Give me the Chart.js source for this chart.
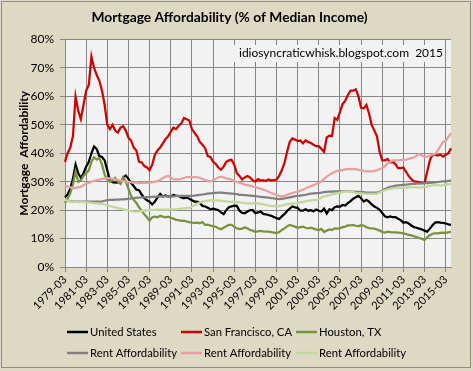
<!DOCTYPE html>
<html>
<head>
<meta charset="utf-8">
<script src="https://cdn.jsdelivr.net/npm/chart.js@4.4.1/dist/chart.umd.min.js"></script>
<style>
  html, body { margin: 0; padding: 0; background: #DDD9C3; }
  #chart { display: block; }
</style>
</head>
<body>
<canvas id="chart" width="473" height="371"></canvas>
<script>
// quarterly categories, 1979-03 .. 2015-09
const years = [];
for (let y = 1979; y <= 2015; y++) years.push(y);
const quarters = [];
years.forEach(y => ['03', '06', '09', '12'].forEach(m => quarters.push(y + '-' + m)));
quarters.splice(quarters.indexOf('2015-09') + 1);

const seriesNames = ['United States', 'San Francisco, CA', 'Houston, TX',
  'Rent Affordability', 'Rent Affordability', 'Rent Affordability'];

const usMortgage = [
  24.5, 25.5, 27.5, 31, 36, 33, 31.3, 33, 35.3, 37, 40, 42.4,
  41.5, 39, 38.7, 37.5, 34, 30.5, 29.8, 29.7, 29.8, 29.5, 31.5, 32.2,
  31, 29.5, 28.5, 27.2, 27, 25.5, 24.2, 23.5, 23, 22, 23, 24.5,
  25.7, 24.8, 25.2, 24.8, 24.8, 25.3, 25, 25, 24.5, 24.2, 24.5, 24,
  23.5, 23, 23, 22.5, 21.5, 21.3, 20.8, 20.3, 20.5, 20.3, 20, 19.2,
  18.6, 20, 21, 21.3, 21.6, 21.5, 19.8, 19, 18.9, 19.5, 20, 20,
  18.9, 19.2, 19.5, 18.7, 18.5, 18.3, 18, 17.6, 17.2, 16.9, 17.8, 18.6,
  19.7, 20.5, 21.3, 21, 20.8, 19.8, 19.8, 20.3, 19.8, 20, 19.6, 20.2,
  19.8, 19.5, 20.5, 18.8, 20.3, 20, 21, 21.3, 21.2, 21.8, 21.6, 22.5,
  23.2, 24, 24.5, 25, 24.2, 23, 23.6, 23, 22, 21.3, 20.8, 20.1,
  19, 17.8, 17.5, 17.8, 17.5, 17.5, 17, 16.5, 15.6, 15.8, 15.3, 14.6,
  14, 13.8, 13.5, 13.2, 12.8, 12.4, 13.5, 14.7, 15.6, 15.8, 15.6, 15.5,
  15.3, 15, 14.8
];
const sfMortgage = [
  37, 40, 42, 46, 60, 55, 52, 57, 62, 64, 74, 70,
  67.5, 65.5, 62, 57, 50, 48.5, 50, 48, 47.3, 49, 49.5, 48,
  45.5, 44.5, 42, 41, 37, 36.8, 35.5, 35, 34, 36, 39.5, 41,
  42, 43.5, 45, 46, 47.5, 49, 48.5, 49.7, 50.5, 52.4, 52, 51.5,
  48.5, 47.2, 46, 44, 43, 41.8, 39, 38.7, 37, 36.3, 35, 34.2,
  35.3, 37, 37.5, 37.7, 36, 33, 32, 30.8, 31.5, 32, 31.5, 30.5,
  30, 30.9, 30.5, 30.5, 30.3, 30.8, 30.5, 30.6, 30.7, 32, 34, 36.5,
  40.5, 44, 45.2, 44.8, 44.3, 44.5, 43.5, 44.5, 44, 43.6, 43, 42.5,
  42.5, 41.5, 40.5, 45.6, 46.2, 46, 52.4, 51.8, 54.5, 57.3, 58.5, 60.5,
  62, 62, 62.5, 60, 56, 55.8, 57, 54, 50, 48, 46, 40.5,
  37.5, 37.5, 38, 36.8, 37, 36.2, 34.8, 34.8, 35, 33.5, 32, 30.9,
  30.1, 30, 29.8, 29.5, 29.6, 33.5, 37.5, 39.5, 39.5, 39.2, 39.5, 38.8,
  39.5, 40, 41.8
];
const houstonMortgage = [
  22.5, 24, 26, 29, 33.5, 30, 30.5, 32, 33, 34, 37, 38.6,
  37.8, 38.3, 36, 32.5, 30.5, 30, 30.5, 31.3, 30, 29.2, 31.5, 30,
  27.5, 25, 23.6, 22.5, 21, 19.8, 18.5, 17.5, 16.3, 17.5, 17.7, 17.5,
  18, 17.7, 17.5, 17.7, 17.3, 17, 16.6, 16.5, 16.2, 16.3, 16, 15.8,
  15.6, 15.5, 15.6, 15.4, 15.8, 14.8, 14.9, 14.6, 14.3, 14.2, 13.6, 13.3,
  13.8, 14.3, 14.8, 14.8, 14.2, 13.6, 13.3, 13.5, 13.9, 13.6, 13, 12.8,
  12.4, 12.5, 12.7, 12.5, 12.4, 12.4, 12.3, 12.1, 11.9, 12.3, 13, 13.6,
  14.3, 14.8, 14.5, 14.2, 13.8, 14, 14.2, 13.8, 13.6, 13.8, 13.5, 13.2,
  13, 13.4, 12.3, 12.8, 13.2, 13, 13.6, 13.5, 13.6, 14, 14.2, 14.6,
  14.6, 14.8, 14.5, 14.3, 14.8, 14.5, 14, 13.7, 13.6, 13.5, 13.2, 12.8,
  12.3, 12.1, 12.4, 12.3, 12.2, 12.2, 12.1, 12, 11.8, 11.6, 11.3, 11.1,
  10.8, 10.5, 10.2, 9.9, 9.5, 10.4, 11.2, 11.7, 11.8, 11.8, 12, 12.1,
  12, 12.2, 12.4
];
const usRent = [
  23.4, 23.3, 23.2, 23.1, 23, 23, 23, 23, 23, 23, 23, 23,
  23, 23, 23.1, 23.3, 23.5, 23.6, 23.6, 23.7, 23.7, 23.8, 23.8, 23.9,
  24, 24.1, 24.2, 24.3, 24.4, 24.5, 24.5, 24.6, 24.6, 24.7, 24.7, 24.8,
  24.8, 24.8, 24.8, 24.8, 24.8, 24.8, 24.9, 24.9, 25, 25, 25, 25,
  25, 25.1, 25.3, 25.4, 25.5, 25.6, 25.8, 25.9, 26, 26.1, 26.2, 26.2,
  26.1, 26, 25.9, 25.8, 25.7, 25.6, 25.4, 25.4, 25.3, 25.2, 25.1, 25,
  24.9, 24.8, 24.7, 24.6, 24.5, 24.4, 24.2, 24.1, 24, 23.9, 24, 24.1,
  24.3, 24.5, 24.7, 24.9, 25, 25.1, 25.3, 25.4, 25.6, 25.8, 25.9, 26,
  26, 26.2, 26.3, 26.4, 26.5, 26.5, 26.6, 26.6, 26.6, 26.6, 26.6, 26.6,
  26.5, 26.5, 26.4, 26.4, 26.3, 26.3, 26.2, 26.2, 26.2, 26.2, 26.2, 26.4,
  26.9, 27.4, 27.9, 28.2, 28.4, 28.6, 28.7, 28.8, 28.9, 29, 29.1, 29.2,
  29.2, 29.3, 29.3, 29.4, 29.5, 29.5, 29.6, 29.7, 29.8, 29.9, 30, 30.1,
  30.1, 30.3, 30.4
];
const sfRent = [
  28.5, 28.3, 28, 27.7, 27.8, 28, 28.2, 28.8, 29.3, 29.6, 30, 30.3,
  30.5, 30.7, 31, 31.2, 31.3, 31.2, 31, 30.8, 30.6, 30.4, 30.2, 30.1,
  30, 29.8, 29.7, 29.7, 29.6, 29.6, 29.7, 29.6, 29.7, 29.8, 30, 30.2,
  30.7, 31.2, 31.7, 32.1, 31.5, 30.9, 30.8, 30.8, 31, 31.3, 31.6, 31.6,
  31.6, 31.6, 31.6, 31.3, 31, 30.6, 30.3, 30.1, 30.5, 31, 31.5, 31.8,
  31.5, 31.2, 31, 30.7, 30.3, 29.9, 29.7, 29.4, 29, 28.8, 28.6, 28.3,
  28.1, 27.8, 27.5, 27.2, 26.9, 26.5, 26, 25.7, 25.4, 25, 24.8, 25,
  25.4, 25.7, 26, 26.3, 26.5, 26.8, 27.2, 27.6, 28.1, 28.4, 28.8, 29.2,
  29.5, 30.2, 31, 31.8, 32.4, 33, 33.4, 33.8, 33.9, 34.1, 34.3, 34.4,
  34.4, 34.4, 34.4, 34.2, 34, 33.8, 33.6, 33.6, 33.6, 33.8, 34, 34.5,
  34.8, 35.5, 36.5, 37, 37.5, 37.5, 37.5, 37.6, 37.7, 37.8, 38, 38.3,
  38.5, 39.2, 39.7, 39.2, 38.7, 38.9, 39.2, 39.6, 39.8, 41, 42.5, 44,
  44.2, 45.8, 47.1
];
const houstonRent = [
  23.6, 23.3, 23.1, 23, 22.9, 22.8, 22.8, 22.8, 22.7, 22.7, 22.6, 22.5,
  22.4, 22.3, 22.2, 22, 21.7, 21.4, 21.2, 21, 20.7, 20.5, 20.3, 20.1,
  19.9, 19.7, 19.5, 19.5, 19.6, 19.7, 19.8, 19.9, 20, 20.1, 20.1, 20.2,
  20.2, 20.2, 20.2, 20.2, 20.3, 20.3, 20.3, 20.4, 20.5, 20.6, 20.7, 20.8,
  21.2, 21.8, 22.2, 22.6, 23, 23.2, 23.3, 23.4, 23.4, 23.4, 23.4, 23.3,
  23.2, 23.1, 23, 22.9, 22.9, 22.8, 22.7, 22.6, 22.5, 22.4, 22.3, 22.4,
  22.5, 22.4, 22.2, 22, 21.8, 21.6, 21.5, 21.4, 21.3, 21.4, 21.6, 21.9,
  22.1, 22.2, 22.3, 22.4, 22.5, 22.7, 22.9, 23.1, 23.3, 23.4, 23.5, 23.6,
  23.8, 24.5, 24.8, 25, 25.3, 25.5, 25.7, 26, 26.2, 26.3, 26.4, 26.5,
  26.4, 26.3, 26.1, 26, 25.9, 25.8, 25.7, 25.7, 25.7, 25.7, 25.8, 26.2,
  26.6, 27, 27.3, 27.5, 27.7, 27.7, 27.7, 27.7, 27.8, 27.8, 28, 28.1,
  28.1, 28, 27.9, 28, 28.2, 28.3, 28.5, 28.7, 28.8, 28.9, 28.6, 28.8,
  29, 29.1, 29.2
];

const yTicks = [0, 5, 10, 15, 20, 25, 30, 35, 40, 45, 50, 55, 60, 65, 70, 75, 80];

const colors = ['#000000', '#CC0000', '#77933C', '#808080', '#E6A0A0', '#C3D69B'];
const allSeries = [usMortgage, sfMortgage, houstonMortgage, usRent, sfRent, houstonRent];

const FONT = 'Lato, "DejaVu Sans", sans-serif';
const GRID = '#868686';
const PLOT_BG = '#F2F2F2';

// plot background, watermark text, legend, outer frame
const decor = {
  id: 'decor',
  beforeDraw(chart) {
    const { ctx, chartArea: a } = chart;
    ctx.save();
    ctx.fillStyle = PLOT_BG;
    ctx.fillRect(a.left, a.top, a.right - a.left, a.bottom - a.top);
    ctx.restore();
  },
  beforeDatasetsDraw(chart) {
    const { ctx } = chart;
    ctx.save();
    ctx.fillStyle = PLOT_BG;
    ctx.fillRect(234, 45, 206, 17);
    ctx.fillStyle = '#000';
    ctx.font = '12px ' + FONT;
    ctx.textBaseline = 'middle';
    ctx.fillText('idiosyncraticwhisk.blogspot.com  2015', 239, 53.5);
    ctx.restore();
  },
  afterDraw(chart) {
    const { ctx } = chart;
    ctx.save();
    const cols = [67, 181, 296];
    const rows = [332, 353];
    ctx.font = '11.3px ' + FONT;
    ctx.textBaseline = 'middle';
    chart.data.datasets.forEach((ds, i) => {
      const x = cols[i % 3];
      const y = rows[Math.floor(i / 3)];
      ctx.strokeStyle = ds.borderColor;
      ctx.lineWidth = 2.5;
      ctx.beginPath();
      ctx.moveTo(x, y);
      ctx.lineTo(x + 21, y);
      ctx.stroke();
      ctx.fillStyle = '#000';
      ctx.fillText(ds.label, x + 23, y);
    });
    ctx.strokeStyle = '#8C8C8C';
    ctx.lineWidth = 1;
    ctx.strokeRect(1.5, 1.5, 469, 366);
    ctx.restore();
  }
};

new Chart(document.getElementById('chart'), {
  type: 'line',
  data: {
    labels: quarters,
    datasets: allSeries.map((values, i) => ({
      label: seriesNames[i],
      data: values,
      borderColor: colors[i],
      backgroundColor: colors[i],
      borderWidth: 2.25,
      pointRadius: 0,
      tension: 0,
      order: 6 - i,
    })),
  },
  options: {
    responsive: false,
    devicePixelRatio: 1,
    animation: false,
    layout: {
      padding: { left: 8, right: 22, top: 0, bottom: 46 },
    },
    plugins: {
      legend: { display: false },
      tooltip: { enabled: false },
      title: {
        display: true,
        text: 'Mortgage Affordability (% of Median Income)',
        color: '#000',
        font: { family: FONT, size: 13.8, weight: 'bold' },
        padding: { top: 9, bottom: 14 },
      },
    },
    scales: {
      x: {
        type: 'category',
        offset: false,
        grid: { color: GRID, lineWidth: 1, tickLength: 5 },
        border: { color: GRID },
        ticks: {
          autoSkip: false,
          maxRotation: 45,
          minRotation: 45,
          color: '#000',
          padding: 1,
          font: { family: FONT, size: 11 },
          callback: function (val, i) {
            return i % 8 === 0 ? this.getLabelForValue(val) : null;
          },
        },
        afterFit: s => { s.height = 58; },
      },
      y: {
        min: 0,
        max: 80,
        afterBuildTicks: s => { s.ticks = yTicks.map(v => ({ value: v })); },
        grid: { color: GRID, lineWidth: 1, tickLength: 5 },
        border: { color: GRID },
        ticks: {
          color: '#000',
          padding: 6,
          font: { family: FONT, size: 12 },
          callback: v => v + '%',
        },
        title: {
          display: true,
          text: 'Mortgage  Affordability',
          color: '#000',
          font: { family: FONT, size: 12, weight: 'bold' },
          padding: { top: 9, bottom: 0 },
        },
        afterFit: s => { s.width = 57; },
      },
    },
  },
  plugins: [decor],
});
</script>
</body>
</html>
